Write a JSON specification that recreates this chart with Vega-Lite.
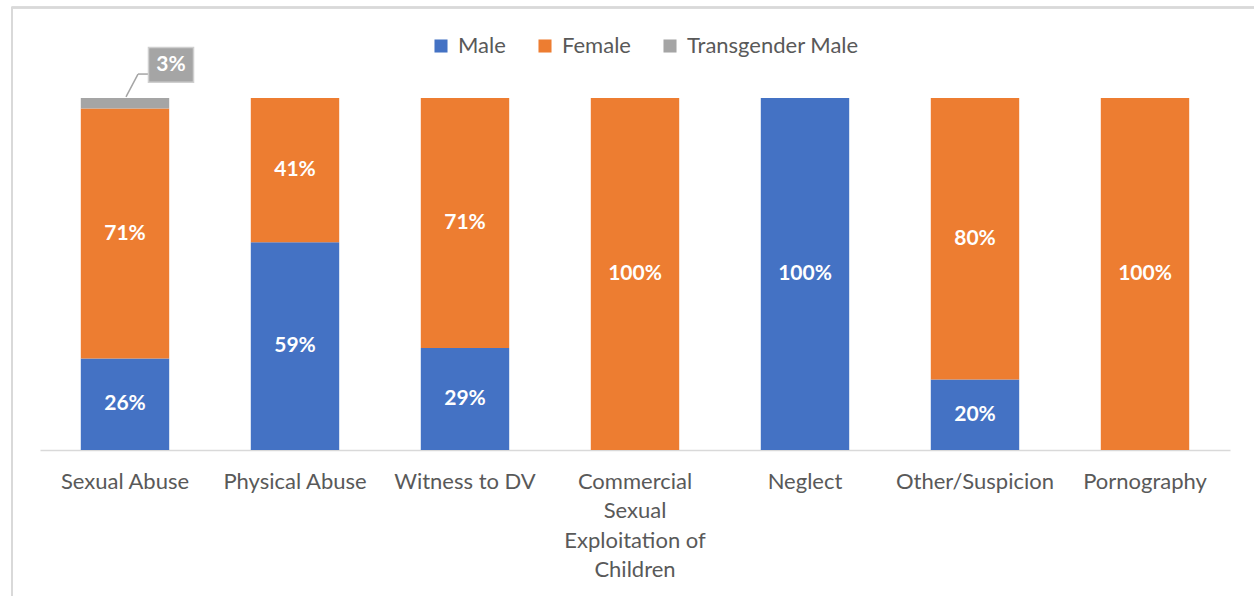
{
  "$schema": "https://vega.github.io/schema/vega-lite/v6.json",
  "width": 1190,
  "height": 352,
  "autosize": "none",
  "padding": {"left": 40, "top": 98, "right": 24, "bottom": 146},
  "background": "white",
  "config": {"view": {"stroke": null}, "font": "Lato"},
  "data": {"values": [
    {"category": "Sexual Abuse", "gender": "Male", "pct": 26},
    {"category": "Sexual Abuse", "gender": "Female", "pct": 71},
    {"category": "Sexual Abuse", "gender": "Transgender Male", "pct": 3},
    {"category": "Physical Abuse", "gender": "Male", "pct": 59},
    {"category": "Physical Abuse", "gender": "Female", "pct": 41},
    {"category": "Witness to DV", "gender": "Male", "pct": 29},
    {"category": "Witness to DV", "gender": "Female", "pct": 71},
    {"category": "Commercial Sexual Exploitation of Children", "gender": "Female", "pct": 100},
    {"category": "Neglect", "gender": "Male", "pct": 100},
    {"category": "Other/Suspicion", "gender": "Male", "pct": 20},
    {"category": "Other/Suspicion", "gender": "Female", "pct": 80},
    {"category": "Pornography", "gender": "Female", "pct": 100}
  ]},
  "transform": [
    {"calculate": "indexof(['Male','Female','Transgender Male'], datum.gender)", "as": "ord"}
  ],
  "layer": [
    {
      "mark": {"type": "bar"},
      "encoding": {
        "x": {"field": "category", "type": "nominal", "sort": null,
          "scale": {"paddingInner": 0.48, "paddingOuter": 0.24},
          "axis": {"title": null, "labelAngle": 0, "labelFontSize": 22, "labelColor": "#595959",
            "labelPadding": 21, "ticks": false, "domainColor": "#d9d9d9", "domainWidth": 1.5,
            "labelLineHeight": 29.5, "labelBaseline": "top",
            "labelExpr": "datum.value == 'Commercial Sexual Exploitation of Children' ? ['Commercial', 'Sexual', 'Exploitation of', 'Children'] : datum.value"}},
        "y": {"field": "pct", "type": "quantitative", "stack": "zero",
          "scale": {"domain": [0, 100], "nice": false}, "axis": null},
        "color": {"field": "gender", "type": "nominal",
          "scale": {"domain": ["Male", "Female", "Transgender Male"], "range": ["#4472C4", "#ED7D31", "#A5A5A5"]},
          "legend": {"orient": "none", "legendX": 390, "legendY": -63, "direction": "horizontal",
            "title": null, "labelFontSize": 22, "labelColor": "#595959", "labelLimit": 400,
            "symbolType": "square", "symbolSize": 170, "symbolStrokeWidth": 0, "columnPadding": 28,
            "labelOffset": 6}},
        "order": {"field": "ord", "type": "quantitative"}
      }
    },
    {
      "transform": [
        {"stack": "pct", "groupby": ["category"], "sort": [{"field": "ord"}], "as": ["s0", "s1"]},
        {"filter": "datum.gender != 'Transgender Male'"},
        {"calculate": "(datum.s0 + datum.s1) / 2", "as": "mid"},
        {"calculate": "datum.pct + '%'", "as": "label"}
      ],
      "mark": {"type": "text", "fontWeight": "bold", "fontSize": 21, "color": "white"},
      "encoding": {
        "x": {"field": "category", "type": "nominal", "sort": null},
        "y": {"field": "mid", "type": "quantitative"},
        "text": {"field": "label"}
      }
    },
    {
      "transform": [{"filter": "datum.gender == 'Transgender Male'"}],
      "mark": {"type": "rule", "color": "#A5A5A5", "strokeWidth": 1.5, "xOffset": 1, "x2Offset": 13},
      "encoding": {
        "x": {"field": "category", "type": "nominal", "sort": null},
        "x2": {"field": "category"},
        "y": {"datum": 100.3},
        "y2": {"datum": 106.8}
      }
    },
    {
      "transform": [{"filter": "datum.gender == 'Transgender Male'"}],
      "mark": {"type": "rule", "color": "#A5A5A5", "strokeWidth": 1.5, "xOffset": 13, "x2Offset": 23},
      "encoding": {
        "x": {"field": "category", "type": "nominal", "sort": null},
        "x2": {"field": "category"},
        "y": {"datum": 106.8}
      }
    },
    {
      "transform": [{"filter": "datum.gender == 'Transgender Male'"}],
      "mark": {"type": "point", "shape": "M-1.3,-1H1.3V1H-1.3Z", "size": 1200, "filled": true,
        "fill": "#A5A5A5", "stroke": "#cfcfcf", "strokeWidth": 1.5, "opacity": 1, "xOffset": 46},
      "encoding": {
        "x": {"field": "category", "type": "nominal", "sort": null},
        "y": {"datum": 109.4}
      }
    },
    {
      "transform": [{"filter": "datum.gender == 'Transgender Male'"},
        {"calculate": "datum.pct + '%'", "as": "label"}],
      "mark": {"type": "text", "fontWeight": "bold", "fontSize": 21, "color": "white", "xOffset": 46},
      "encoding": {
        "x": {"field": "category", "type": "nominal", "sort": null},
        "y": {"datum": 109.4},
        "text": {"field": "label"}
      }
    },
    {
      "mark": {"type": "rule", "color": "#d9d9d9", "strokeWidth": 1.5, "xOffset": -69, "x2Offset": 80},
      "encoding": {
        "x": {"datum": "Sexual Abuse", "type": "nominal", "bandPosition": 0},
        "x2": {"datum": "Pornography", "bandPosition": 1},
        "y": {"datum": 125.7}
      }
    },
    {
      "mark": {"type": "rule", "color": "#d9d9d9", "strokeWidth": 1.5, "xOffset": -69},
      "encoding": {
        "x": {"datum": "Sexual Abuse", "type": "nominal", "bandPosition": 0},
        "y": {"datum": 125.7},
        "y2": {"datum": -45}
      }
    }
  ]
}
